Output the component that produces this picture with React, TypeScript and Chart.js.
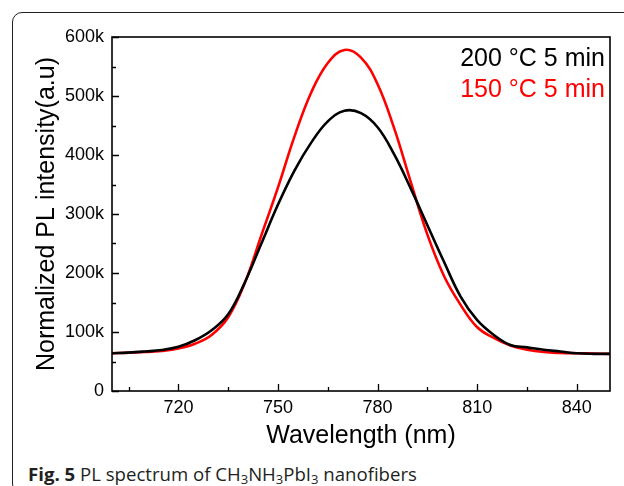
import React, { useEffect, useRef } from 'react';
import { Chart, registerables } from 'chart.js';

Chart.register(...registerables);

// Wavelength (nm)
const wavelengths = [700, 705, 710, 715, 720, 725, 730, 735, 740, 745, 750, 755, 760, 765, 770, 775, 780, 785, 790, 795, 800, 805, 810, 815, 820, 825, 830, 835, 840, 845, 850];
// 200 °C 5 min (a.u.)
const pl200 = [64000, 65000, 67000, 69500, 75000, 86000, 103000, 130000, 184000, 250000, 316000, 374000, 421000, 457000, 475000, 471000, 447000, 401000, 343000, 281000, 219000, 160000, 120000, 95000, 78000, 74000, 70000, 67000, 64000, 63000, 63000];
// 150 °C 5 min (a.u.)
const pl150 = [64000, 65000, 66000, 68000, 72000, 80000, 95000, 125000, 183000, 264000, 345000, 432000, 506000, 556000, 578000, 565000, 520000, 445000, 354000, 265000, 195000, 146000, 108000, 90000, 77000, 70000, 66000, 64500, 64000, 63500, 63000];

const seriesLabels = ['200 \u00B0C 5 min', '150 \u00B0C 5 min'];
const seriesColors = ['#000000', '#ff0000'];

const xMajorTicks = [720, 750, 780, 810, 840];
const xMinorTicks = [705, 735, 765, 795, 825];
const yMajorTicks = [0, 100000, 200000, 300000, 400000, 500000, 600000];
const yMinorTicks = [50000, 150000, 250000, 350000, 450000, 550000];

const xTitle = 'Wavelength (nm)';
const yTitle = 'Normalized PL intensity(a.u)';

const FONT = '"Liberation Sans", Arial, Helvetica, sans-serif';

const decorPlugin = {
  id: 'decor',
  afterDatasetsDraw(chart: any) {
    const { ctx, chartArea: a, scales } = chart;
    const x = scales.x;
    const y = scales.y;
    ctx.save();
    ctx.strokeStyle = '#000';
    ctx.lineWidth = 1.6;
    ctx.strokeRect(a.left, a.top, a.right - a.left, a.bottom - a.top);
    ctx.beginPath();
    xMajorTicks.forEach((v) => {
      const p = Math.round(x.getPixelForValue(v)) + 0.5;
      ctx.moveTo(p, a.bottom);
      ctx.lineTo(p, a.bottom - 7);
    });
    xMinorTicks.forEach((v) => {
      const p = Math.round(x.getPixelForValue(v)) + 0.5;
      ctx.moveTo(p, a.bottom);
      ctx.lineTo(p, a.bottom - 4);
    });
    yMajorTicks.forEach((v) => {
      const p = Math.round(y.getPixelForValue(v)) + 0.5;
      ctx.moveTo(a.left, p);
      ctx.lineTo(a.left + 7, p);
    });
    yMinorTicks.forEach((v) => {
      const p = Math.round(y.getPixelForValue(v)) + 0.5;
      ctx.moveTo(a.left, p);
      ctx.lineTo(a.left + 4, p);
    });
    ctx.lineWidth = 1.3;
    ctx.stroke();

    ctx.font = '25px ' + FONT;
    ctx.textAlign = 'right';
    ctx.textBaseline = 'alphabetic';
    chart.data.datasets.forEach((ds: any, i: number) => {
      ctx.fillStyle = ds.borderColor;
      ctx.fillText(ds.label, a.right - 5, a.top + 29 + i * 31);
    });
    ctx.restore();
  },
};

export default function App() {
  const ref = useRef<HTMLCanvasElement>(null);

  useEffect(() => {
    if (!ref.current) return;
    const chart = new Chart(ref.current, {
      type: 'line',
      data: {
        datasets: [
          {
            label: seriesLabels[0],
            data: wavelengths.map((w, i) => ({ x: w, y: pl200[i] })),
            borderColor: seriesColors[0],
            borderWidth: 2.6,
            pointRadius: 0,
            tension: 0.4,
            fill: false,
          },
          {
            label: seriesLabels[1],
            data: wavelengths.map((w, i) => ({ x: w, y: pl150[i] })),
            borderColor: seriesColors[1],
            borderWidth: 2.6,
            pointRadius: 0,
            tension: 0.4,
            fill: false,
          },
        ],
      },
      options: {
        animation: false,
        responsive: false,
        devicePixelRatio: 1,
        layout: { padding: { left: 0, right: 14, top: 37, bottom: 0 } },
        plugins: {
          legend: { display: false },
          tooltip: { enabled: false },
        },
        scales: {
          x: {
            type: 'linear',
            min: 700,
            max: 850,
            grid: { display: false, drawTicks: false },
            border: { display: false },
            afterBuildTicks: (s: any) => {
              s.ticks = xMajorTicks.map((v) => ({ value: v }));
            },
            afterFit: (s: any) => {
              s.height = 69;
            },
            ticks: {
              color: '#000',
              padding: 6,
              font: { family: FONT, size: 18 },
              maxRotation: 0,
              callback: (v: any) => String(v),
            },
            title: {
              display: true,
              text: xTitle,
              color: '#000',
              font: { family: FONT, size: 25 },
              padding: { top: 0, bottom: 9 },
            },
          },
          y: {
            type: 'linear',
            min: 0,
            max: 600000,
            grid: { display: false, drawTicks: false },
            border: { display: false },
            afterBuildTicks: (s: any) => {
              s.ticks = yMajorTicks.map((v) => ({ value: v }));
            },
            afterFit: (s: any) => {
              s.width = 112;
            },
            ticks: {
              color: '#000',
              padding: 8,
              font: { family: FONT, size: 18 },
              callback: (v: any) => (Number(v) === 0 ? '0' : Number(v) / 1000 + 'k'),
            },
            title: {
              display: true,
              text: yTitle,
              color: '#000',
              font: { family: FONT, size: 25 },
              padding: { top: 32, bottom: 0 },
            },
          },
        },
      },
      plugins: [decorPlugin],
    } as any);
    return () => chart.destroy();
  }, []);

  const subStyle = { fontSize: '0.7em', verticalAlign: '-0.25em', lineHeight: 0 } as const;

  return (
    <div
      style={{
        position: 'absolute',
        left: 0,
        top: 0,
        width: 624,
        height: 486,
        overflow: 'hidden',
        background: '#fff',
      }}
    >
      <div
        style={{
          position: 'absolute',
          left: 12,
          top: 12,
          width: 700,
          height: 480,
          border: '1.5px solid #231f20',
          borderRadius: 10,
        }}
      />
      <canvas
        ref={ref}
        width={624}
        height={460}
        style={{ position: 'absolute', left: 0, top: 0, width: 624, height: 460 }}
      />
      <div
        style={{
          position: 'absolute',
          left: 28,
          top: 464,
          fontFamily: '"Open Sans", sans-serif',
          fontSize: 18.6,
          lineHeight: '19px',
          whiteSpace: 'nowrap',
          color: '#231f20',
        }}
      >
        <span style={{ fontWeight: 700 }}>Fig. 5</span> PL spectrum of CH
        <sub style={subStyle}>3</sub>NH
        <sub style={subStyle}>3</sub>PbI
        <sub style={subStyle}>3</sub> nanofibers
      </div>
    </div>
  );
}
